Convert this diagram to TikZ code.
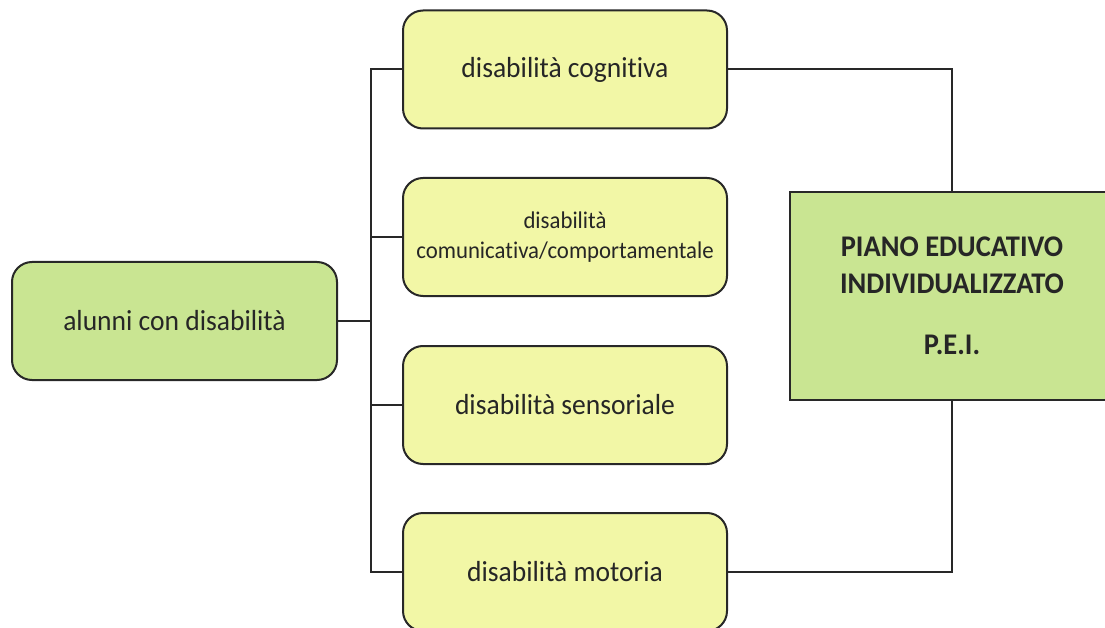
\documentclass[tikz,border=0pt]{standalone}
\usepackage{fontspec}
\setmainfont{Carlito}[FakeStretch=0.95,Ligatures={NoCommon}]
\usetikzlibrary{positioning}
\definecolor{boxgreen}{RGB}{201,229,146}
\definecolor{boxyellow}{RGB}{242,247,166}
\definecolor{edge}{RGB}{40,40,40}
\tikzset{
  kindbox/.style={draw=edge, line width=2pt, rounded corners=20pt, fill=boxyellow,
    minimum width=324pt, minimum height=118pt, align=center, text=black!85},
  link/.style={draw=edge, line width=2pt}
}

\begin{document}
\begin{tikzpicture}[x=1pt,y=-1pt]
\clip (0,0) rectangle (1105,628);
\fill[white] (0,0) rectangle (1105,628);
% pupils
\node[kindbox, fill=boxgreen, minimum width=325pt, font=\fontsize{29}{34}\selectfont]
    (alunni) at (174.5,321) {alunni con disabilità};
% the four kinds
\node[kindbox, font=\fontsize{29}{34}\selectfont] (cog) at (565,69.5) {disabilità cognitiva};
\node[kindbox, font=\fontsize{24}{30}\selectfont] (com) at (565,237)
    {disabilità\\comunicativa/comportamentale};
\node[kindbox, font=\fontsize{29}{34}\selectfont] (sen) at (565,405) {disabilità sensoriale};
\node[kindbox, font=\fontsize{29}{34}\selectfont] (mot) at (565,572) {disabilità motoria};
% plan
\node[draw=edge, line width=2pt, fill=boxgreen, minimum width=324pt, minimum height=208pt,
    align=center, text=black!85, font=\bfseries\fontsize{30}{37}\selectfont]
    (pei) at (952,296) {PIANO EDUCATIVO\\INDIVIDUALIZZATO\\[24pt]P.E.I.};
% connectors
\draw[link] (alunni.east) -- ++(33,0) coordinate (j);
\foreach \b in {cog,com,sen,mot}
  \draw[link] (\b.west) -| (j);
\draw[link] (cog.east) -| (pei.north);
\draw[link] (mot.east) -| (pei.south);
\end{tikzpicture}
\end{document}
